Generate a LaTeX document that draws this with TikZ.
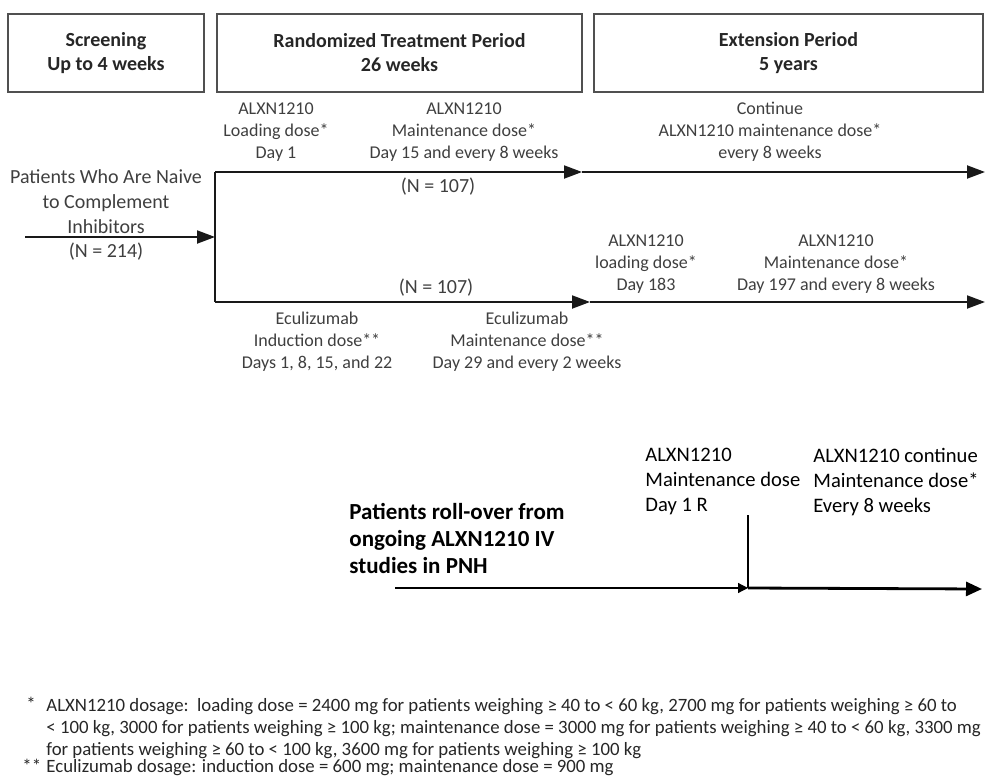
\documentclass[tikz,border=0pt]{standalone}
\usepackage{fontspec}
\setmainfont{Carlito}
\newfontfamily\notefont{Carlito}
\usetikzlibrary{arrows.meta, positioning, calc}
\definecolor{labelgray}{HTML}{3F3F3F}
\definecolor{framegray}{HTML}{505050}

\begin{document}
\begin{tikzpicture}[
  x=0.5pt, y=-0.5pt,
  period/.style={draw=framegray, line width=0.8pt, inner sep=0pt,
    minimum height=39pt, align=center, text=black!85,
    font=\bfseries\fontsize{10}{12}\selectfont},
  dose/.style={align=center, text=labelgray, inner sep=0pt,
    font=\fontsize{9}{11}\selectfont},
  count/.style={dose, font=\fontsize{10}{12.5}\selectfont},
  rollover/.style={align=left, text=black, inner sep=0pt,
    font=\fontsize{10.3}{12.5}\selectfont},
  note/.style={align=left, text=black!85, inner sep=0pt,
    font=\notefont\fontsize{9.4}{11}\selectfont},
  flow/.style={line width=1pt, black!90},
  >={Triangle[length=9pt,width=6.5pt]}
]
  \useasboundingbox (0,0) rectangle (985,776);

  % Period headers
  \node[period, minimum width=98pt] (screen) at (106,53)
    {Screening\\Up to 4 weeks};
  \node[period, minimum width=182.5pt] (random) at (399.5,53)
    {Randomized Treatment Period\\26 weeks};
  \node[period, minimum width=194.5pt] (extend) at (788.5,53)
    {Extension Period\\5 years};

  % Randomization
  \coordinate (split) at (215,237);
  \coordinate (armA) at (215,172);
  \coordinate (armB) at (215,302);
  \coordinate (swapA) at (582,172);
  \coordinate (swapB) at (590,302);
  \coordinate (endA) at (985,172);
  \coordinate (endB) at (985,302);
  \coordinate (entry) at (25,237);

  \node[count] (naive) at (106,202)
    {Patients Who Are Naive\\to Complement\\Inhibitors};
  \node[count] (ntotal) at (106,252) {(N = 214)};
  \draw[flow, ->] (entry) -- (split);
  \draw[flow] (armA) -- (armB);

  % ALXN1210 arm
  \node[dose] (loadA) at (276,132) {ALXN1210\\Loading dose*\\Day 1};
  \node[dose] (maintA) at (464,132)
    {ALXN1210\\Maintenance dose*\\Day 15 and every 8 weeks};
  \node[dose] (contA) at (770,132)
    {Continue\\ALXN1210 maintenance dose*\\every 8 weeks};
  \node[count] (nA) at (438,187) {(N = 107)};
  \draw[flow, ->] (armA) -- (swapA);
  \draw[flow, ->] (swapA) -- (endA);

  % Eculizumab arm
  \node[count] (nB) at (436,288) {(N = 107)};
  \node[dose] (induceB) at (317,342)
    {Eculizumab\\Induction dose**\\Days 1, 8, 15, and 22};
  \node[dose] (maintB) at (527,342)
    {Eculizumab\\Maintenance dose**\\Day 29 and every 2 weeks};
  \node[dose] (loadB) at (646,264) {ALXN1210\\loading dose*\\Day 183};
  \node[dose] (contB) at (836,264)
    {ALXN1210\\Maintenance dose*\\Day 197 and every 8 weeks};
  \draw[flow, ->] (armB) -- (swapB);
  \draw[flow, ->] (swapB) -- (endB);

  % Roll-over patients
  \node[rollover, font=\bfseries\fontsize{11.5}{13.5}\selectfont,
    anchor=north west] (rolltext) at (349,503)
    {Patients roll-over from\\ongoing ALXN1210 IV\\studies in PNH};
  \node[rollover, anchor=north west] (rollday) at (645,448)
    {ALXN1210\\Maintenance dose\\Day 1 R};
  \node[rollover, anchor=north west] (rollcont) at (813,448)
    {ALXN1210 continue\\Maintenance dose*\\Every 8 weeks};
  \coordinate (rollstart) at (395,588);
  \coordinate (rollday1) at (748,588);
  \coordinate (rolltop) at (748,515);
  \coordinate (rollend) at (982,589);
  \draw[line width=0.6pt, -{Triangle[length=5pt,width=5pt]}]
    (rollstart) -- (rollday1);
  \draw[line width=0.9pt] (rolltop) -- (rollday1);
  \draw[line width=1.4pt, -{Triangle[length=8pt,width=7pt]}]
    (rollday1) -- (rollend);

  % Footnotes
  \node[note, anchor=base west] (starA) at (26,710) {*};
  \node[note, anchor=north west] (noteA) at (46,698)
    {ALXN1210 dosage:\ \ loading dose = 2400 mg for patients weighing ≥ 40 to < 60 kg, 2700 mg for patients weighing ≥ 60 to\\
     < 100 kg, 3000 for patients weighing ≥ 100 kg; maintenance dose = 3000 mg for patients weighing ≥ 40 to < 60 kg, 3300 mg\\
     for patients weighing ≥ 60 to < 100 kg, 3600 mg for patients weighing ≥ 100 kg};
  \node[note, anchor=base west] (starB) at (22,772) {**};
  \node[note, anchor=base west] (noteB) at (46,772)
    {Eculizumab dosage: induction dose = 600 mg; maintenance dose = 900 mg};
\end{tikzpicture}
\end{document}
